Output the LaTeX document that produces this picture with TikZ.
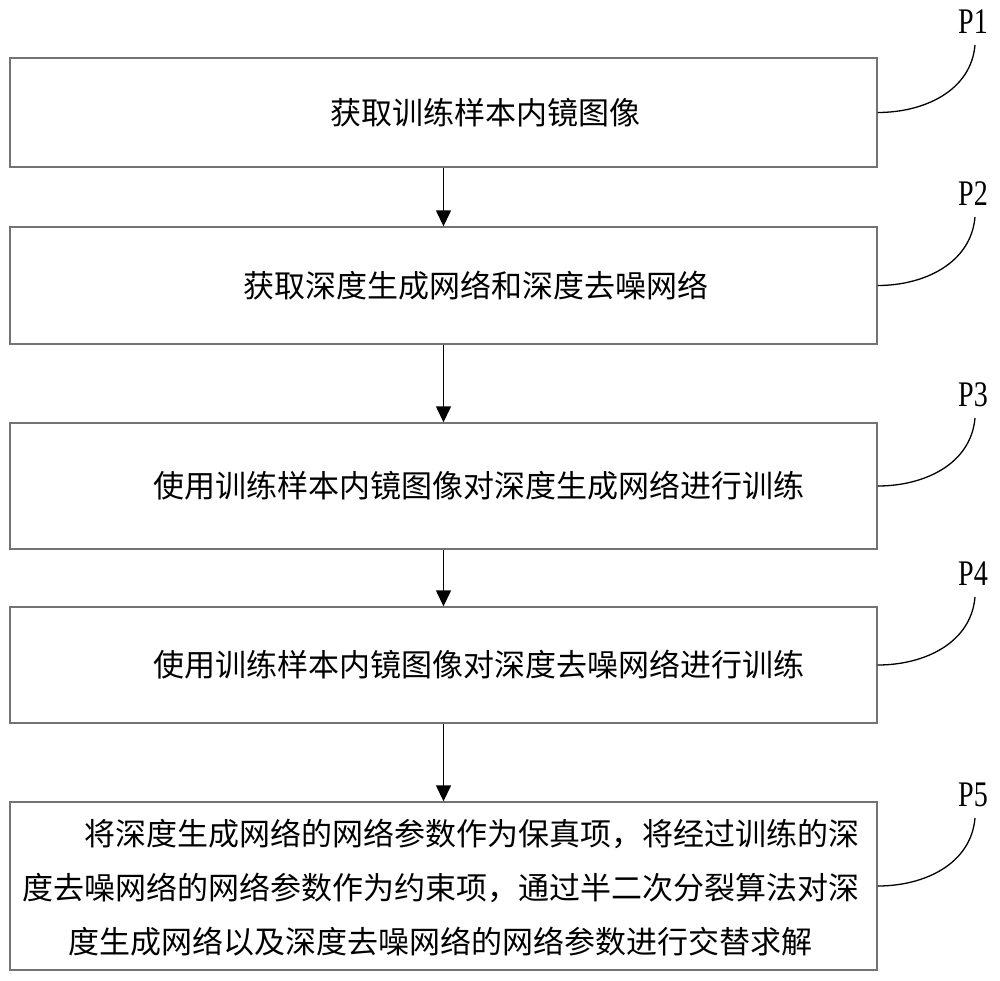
\documentclass[tikz,border=0pt]{standalone}
\usepackage{fontspec}
\usepackage{graphicx}
\setmainfont{Noto Sans CJK SC}
\newfontfamily\pfont{Liberation Serif}
\usetikzlibrary{arrows.meta}

\begin{document}
\begin{tikzpicture}[x=0.5pt, y=-0.5pt,
		bx/.style={draw=black!55, line width=0.7pt, minimum width=433.5pt, inner sep=0pt},
		tx/.style={font=\fontsize{15.5pt}{27pt}\selectfont, inner sep=0pt},
		pl/.style={font=\fontsize{18pt}{18pt}\pfont, anchor=base, inner sep=0pt},
		ar/.style={-{Triangle[length=8pt, width=7.5pt]}, line width=0.7pt},
		ld/.style={line width=0.65pt}]
			\useasboundingbox (0,0) rectangle (1000,980);

			\node[bx, minimum height=54.5pt] (b1) at (443.5,112.5) {};
			\node[bx, minimum height=58.5pt] (b2) at (443.5,285.5) {};
			\node[bx, minimum height=63pt] (b3) at (443.5,486) {};
			\node[bx, minimum height=58pt] (b4) at (443.5,665) {};
			\node[bx, minimum height=84pt] (b5) at (443.5,886) {};

			\node[tx] (t1) at (485,112.5) {获取训练样本内镜图像};
			\node[tx] (t2) at (476,285.5) {获取深度生成网络和深度去噪网络};
			\node[tx] (t3) at (479,486) {使用训练样本内镜图像对深度生成网络进行训练};
			\node[tx] (t4) at (479,665) {使用训练样本内镜图像对深度去噪网络进行训练};
			\node[tx, align=left] (t5) at (440.5,888) {\hspace*{2em}将深度生成网络的网络参数作为保真项，将经过训练的深\\度去噪网络的网络参数作为约束项，通过半二次分裂算法对深\\\hspace*{1.5em}度生成网络以及深度去噪网络的网络参数进行交替求解};

			\draw[ar] (b1) -- (b2);
			\draw[ar] (b2) -- (b3);
			\draw[ar] (b3) -- (b4);
			\draw[ar] (b4) -- (b5);

			% step labels
			\node[pl] (p1) at (973,33) {\scalebox{0.78}[1]{P1}};
			\node[pl] (p2) at (973,205) {\scalebox{0.78}[1]{P2}};
			\node[pl] (p3) at (973,406) {\scalebox{0.78}[1]{P3}};
			\node[pl] (p4) at (973,585) {\scalebox{0.78}[1]{P4}};
			\node[pl] (p5) at (973,806) {\scalebox{0.78}[1]{P5}};

			\coordinate (e1) at (975,45);
			\coordinate (e2) at (975,217);
			\coordinate (e3) at (975,418);
			\coordinate (e4) at (975,597);
			\coordinate (e5) at (975,818);

			\draw[ld] (b1.east) to[out=0, in=-95] (e1);
			\draw[ld] (b2.east) to[out=0, in=-95] (e2);
			\draw[ld] (b3.east) to[out=0, in=-95] (e3);
			\draw[ld] (b4.east) to[out=0, in=-95] (e4);
			\draw[ld] (b5.east) to[out=0, in=-95] (e5);
		\end{tikzpicture}
\end{document}
